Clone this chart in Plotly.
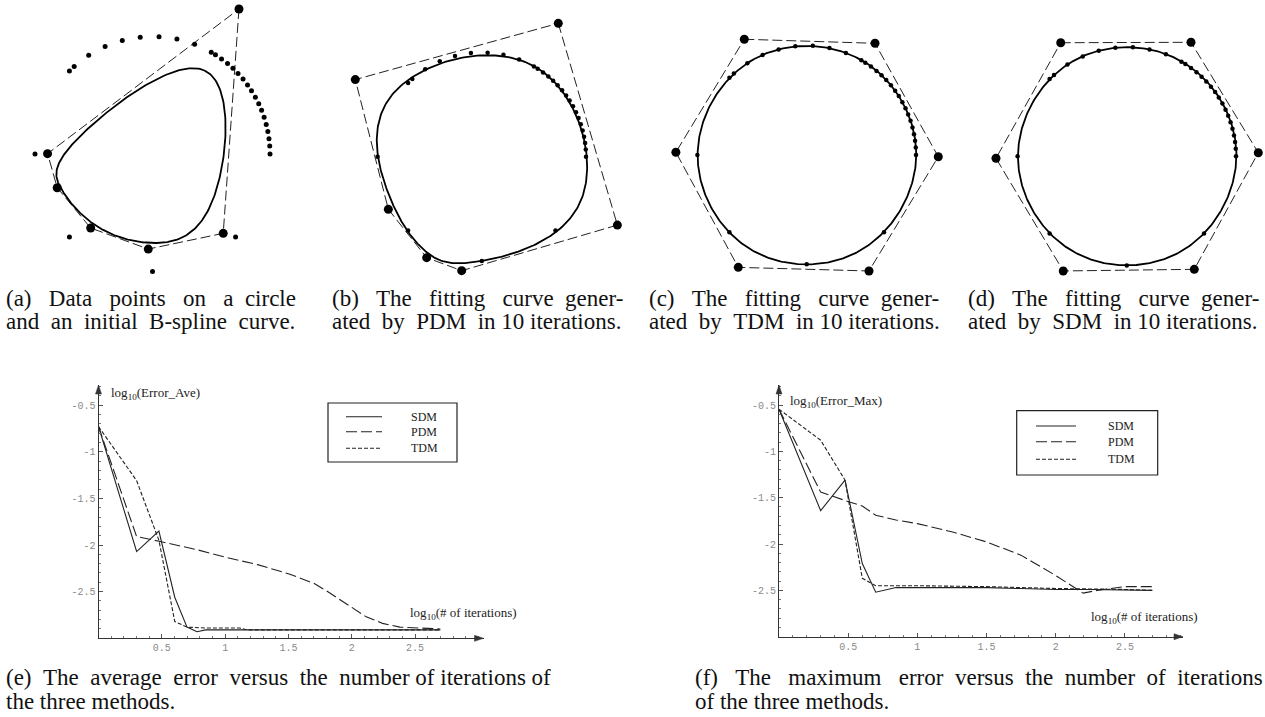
import numpy as np
import plotly.graph_objects as go

W, H = 1265, 717

# ---------------- data ----------------
# angles (degrees) of the data points sampled on the unit circle
DATA_ANGLES_DEG = [0.0, 3.9, 7.5, 11.0, 14.6, 18.2, 21.8, 25.3, 28.9, 32.6, 36.0, 39.6,
                   43.3, 46.8, 50.3, 54.0, 57.6, 60.0, 69.0, 78.0, 86.8, 96.0, 104.9,
                   113.8, 122.9, 131.8, 135.0, 180.0, 225.0, 270.0, 315.0]

# control points of the closed cubic B-spline (circle radius = 1 units)
CTRL_A = [(0.736, 1.234), (0.602, -0.675), (-0.036, -0.809), (-0.526, -0.630),
          (-0.811, -0.287), (-0.893, 0.003)]
CTRL_B = [(0.734, 1.280), (1.301, -0.656), (-0.193, -1.094), (-0.529, -0.969),
          (-0.897, -0.505), (-1.214, 0.740)]
CTRL_C = [(-0.571, 1.059), (0.625, 1.022), (1.204, -0.016), (0.570, -1.061),
          (-0.626, -1.028), (-1.197, 0.025)]
CTRL_D = [(-0.605, 1.040), (0.588, 1.044), (1.204, 0.033), (0.618, -1.035),
          (-0.582, -1.050), (-1.198, -0.018)]

CAPTIONS_TOP = [
    ["(a) Data points on a circle", "and an initial B-spline curve."],
    ["(b) The fitting curve gener-", "ated by PDM in 10 iterations."],
    ["(c) The fitting curve gener-", "ated by TDM in 10 iterations."],
    ["(d) The fitting curve gener-", "ated by SDM in 10 iterations."],
]
CAPTIONS_BOTTOM = [
    ["(e) The average error versus the number of iterations of", "the three methods."],
    ["(f) The maximum error versus the number of iterations", "of the three methods."],
]

METHODS = ["SDM", "PDM", "TDM"]

# average error, log10 scale
E_SDM_ITERS = [1, 2, 3, 4, 5, 6, 7, 10, 13, 20, 50, 100, 200, 500]
E_SDM_VALS = [-0.73, -2.07, -1.85, -2.56, -2.88, -2.93, -2.91, -2.91, -2.91, -2.91, -2.91, -2.91, -2.91, -2.91]
E_PDM_ITERS = [1, 2, 3, 6, 10, 18, 32, 50, 63, 100, 130, 175, 240, 500]
E_PDM_VALS = [-0.73, -1.91, -1.96, -2.05, -2.13, -2.21, -2.31, -2.41, -2.49, -2.67, -2.77, -2.84, -2.88, -2.90]
E_TDM_ITERS = [1, 2, 3, 4, 5, 7, 10, 13, 15, 20, 50, 100, 200, 500]
E_TDM_VALS = [-0.73, -1.31, -1.95, -2.82, -2.88, -2.89, -2.89, -2.89, -2.91, -2.91, -2.91, -2.91, -2.91, -2.91]

# maximum error, log10 scale
F_SDM_ITERS = [1, 2, 3, 4, 5, 7, 10, 20, 32, 56, 100, 178, 316, 500]
F_SDM_VALS = [-0.545, -1.64, -1.31, -2.21, -2.52, -2.47, -2.47, -2.47, -2.47, -2.48, -2.49, -2.49, -2.50, -2.50]
F_PDM_ITERS = [1, 2, 3, 4, 5, 7, 10, 18, 32, 56, 100, 158, 200, 251, 316, 500]
F_PDM_VALS = [-0.545, -1.44, -1.53, -1.59, -1.69, -1.74, -1.78, -1.87, -1.98, -2.12, -2.34, -2.53, -2.50, -2.48, -2.46, -2.46]
F_TDM_ITERS = [1, 2, 3, 4, 5, 7, 10, 32, 100, 316, 500]
F_TDM_VALS = [-0.545, -0.88, -1.31, -2.37, -2.45, -2.45, -2.45, -2.46, -2.48, -2.49, -2.50]

Y_TICKS = [-0.5, -1, -1.5, -2, -2.5]
Y_TICK_TEXT = ["-0.5", "-1", "-1.5", "-2", "-2.5"]
X_TICKS = [0.5, 1, 1.5, 2, 2.5]
X_TICK_TEXT = ["0.5", "1", "1.5", "2", "2.5"]

# ---------------- helpers ----------------
def fx(px):
    return px / W


def fy(py):
    return 1 - py / H


def bspline_closed(ctrl, samples=60):
    P = np.array(ctrl, dtype=float)
    n = len(P)
    t = np.linspace(0, 1, samples, endpoint=False)
    b0 = (1 - t) ** 3 / 6
    b1 = (3 * t ** 3 - 6 * t ** 2 + 4) / 6
    b2 = (-3 * t ** 3 + 3 * t ** 2 + 3 * t + 1) / 6
    b3 = t ** 3 / 6
    segs = []
    for i in range(n):
        p0, p1, p2, p3 = P[(i - 1) % n], P[i], P[(i + 1) % n], P[(i + 2) % n]
        segs.append(np.outer(b0, p0) + np.outer(b1, p1) + np.outer(b2, p2) + np.outer(b3, p3))
    pts = np.vstack(segs + [segs[0][:1]])
    return pts[:, 0], pts[:, 1]


# Times-compatible advance widths (1/1000 em) used to justify caption lines
TIMES_W = {" ": 250, "(": 333, ")": 333, "-": 333, ".": 250, "0": 500, "1": 500,
           "a": 444, "b": 500, "c": 444, "d": 500, "e": 444, "f": 333, "g": 500, "h": 500,
           "i": 278, "l": 278, "m": 778, "n": 500, "o": 500, "p": 500, "r": 333, "s": 389,
           "t": 278, "u": 500, "v": 500, "x": 500, "y": 500,
           "B": 667, "D": 722, "M": 889, "P": 556, "S": 556, "T": 611}


def justify(text, target_px, size):
    natural = sum(TIMES_W.get(c, 500) for c in text) / 1000 * size
    extra = target_px - natural
    nb = 0.25 * size
    k = int(round(extra / nb)) if extra > 0 else 0
    words = text.split(" ")
    gaps = len(words) - 1
    if k == 0 or gaps == 0:
        return text
    base, rem = divmod(k, gaps)
    out = words[0]
    for i, w in enumerate(words[1:]):
        out += " " + "\u00a0" * (base + (1 if i < rem else 0)) + w
    return out


fig = go.Figure()
layout = dict(
    width=W, height=H, margin=dict(l=0, r=0, t=0, b=0),
    paper_bgcolor="white", plot_bgcolor="rgba(0,0,0,0)",
    showlegend=False, annotations=[], shapes=[],
)

# ---------------- panels (a)-(d) ----------------
panel_geom = [
    ((0, 322, 0, 285), (152.5, 154.0), 117.5),
    ((325, 645, 0, 285), (481.8, 156.7), 104.2),
    ((645, 960, 0, 285), (806.7, 155.0), 109.3),
    ((960, 1265, 0, 285), (1126.8, 156.3), 109.2),
]
ctrls = [CTRL_A, CTRL_B, CTRL_C, CTRL_D]
ang = np.radians(DATA_ANGLES_DEG)
data_x = np.cos(ang)
data_y = np.sin(ang)

for k, (ctrl, (box, (cx, cy), r)) in enumerate(zip(ctrls, panel_geom), start=1):
    xa = "x" if k == 1 else f"x{k}"
    ya = "y" if k == 1 else f"y{k}"
    X0, X1, Y0, Y1 = box
    layout["xaxis" if k == 1 else f"xaxis{k}"] = dict(
        domain=[fx(X0), fx(X1)], range=[(X0 - cx) / r, (X1 - cx) / r],
        visible=False, fixedrange=True, anchor=ya)
    layout["yaxis" if k == 1 else f"yaxis{k}"] = dict(
        domain=[fy(Y1), fy(Y0)], range=[(cy - Y1) / r, (cy - Y0) / r],
        visible=False, fixedrange=True, anchor=xa)
    cxs = [p[0] for p in ctrl] + [ctrl[0][0]]
    cys = [p[1] for p in ctrl] + [ctrl[0][1]]
    fig.add_trace(go.Scatter(x=cxs, y=cys, mode="lines", xaxis=xa, yaxis=ya,
                             line=dict(color="#222", width=1, dash="10px,4px"), hoverinfo="skip"))
    bx, by = bspline_closed(ctrl)
    fig.add_trace(go.Scatter(x=bx, y=by, mode="lines", xaxis=xa, yaxis=ya,
                             line=dict(color="black", width=1.8), hoverinfo="skip"))
    fig.add_trace(go.Scatter(x=data_x, y=data_y, mode="markers", xaxis=xa, yaxis=ya,
                             marker=dict(color="black", size=5 if k == 1 else 4.5), hoverinfo="skip"))
    fig.add_trace(go.Scatter(x=cxs[:-1], y=cys[:-1], mode="markers", xaxis=xa, yaxis=ya,
                             marker=dict(color="black", size=9), hoverinfo="skip"))

# ---------------- panels (e), (f) ----------------
dash_styles = {"SDM": "solid", "PDM": "11px,4px", "TDM": "4px,2px"}
series_e = {"SDM": (E_SDM_ITERS, E_SDM_VALS), "PDM": (E_PDM_ITERS, E_PDM_VALS), "TDM": (E_TDM_ITERS, E_TDM_VALS)}
series_f = {"SDM": (F_SDM_ITERS, F_SDM_VALS), "PDM": (F_PDM_ITERS, F_PDM_VALS), "TDM": (F_TDM_ITERS, F_TDM_VALS)}

err_geom = [
    (5, (98.5, 483.5, 385.0, 638.3), 3.04, -0.285, series_e, "Error_Ave",
     (109, 393), (408, 613),
     dict(box=(328, 403, 457, 462), lx=(346, 382), tx=409, rows=[416.7, 431.7, 448.3])),
    (6, (779.0, 1183.0, 385.0, 636.7), 2.92, -0.284, series_f, "Error_Max",
     (788, 401), (1089, 617),
     dict(box=(1016.7, 410.7, 1157.7, 475), lx=(1036, 1076), tx=1106, rows=[426, 441.7, 459.3])),
]

axis_col = "#333"
tick_font = dict(family="Liberation Mono, DejaVu Sans Mono, monospace", size=10, color="#8a8a8a")
label_font = dict(family="Liberation Serif, Times New Roman, serif", size=13, color="#222")

for k, (X0, X1, YT, YB), xmax, ytop, series, ylab, ylab_pos, xlab_pos, leg in err_geom:
    xa, ya = f"x{k}", f"y{k}"
    layout[f"xaxis{k}"] = dict(
        domain=[fx(X0), fx(X1)], range=[0, xmax], anchor=ya, fixedrange=True,
        showline=True, linecolor=axis_col, linewidth=1, showgrid=False, zeroline=False,
        tickmode="array", tickvals=X_TICKS, ticktext=X_TICK_TEXT,
        ticks="inside", ticklen=4, tickcolor="#555", tickwidth=1,
        minor=dict(dtick=0.1, tick0=0, ticks="inside", ticklen=2, tickcolor="#777", showgrid=False),
        tickfont=tick_font)
    layout[f"yaxis{k}"] = dict(
        domain=[fy(YB), fy(YT)], range=[-3, ytop], anchor=xa, fixedrange=True,
        showline=True, linecolor=axis_col, linewidth=1, showgrid=False, zeroline=False,
        tickmode="array", tickvals=Y_TICKS, ticktext=Y_TICK_TEXT,
        ticks="inside", ticklen=4, tickcolor="#555", tickwidth=1,
        minor=dict(dtick=0.1, tick0=0, ticks="inside", ticklen=2, tickcolor="#777", showgrid=False),
        tickfont=tick_font)
    for name in METHODS:
        it, vals = series[name]
        fig.add_trace(go.Scatter(x=np.log10(it), y=vals, mode="lines", name=name, xaxis=xa, yaxis=ya,
                                 line=dict(color="#222", width=1.1, dash=dash_styles[name]),
                                 hoverinfo="skip"))
    # axis arrowheads (paths in paper coordinates)
    up = f"M {fx(X0 - 3)},{fy(YT + 9)} L {fx(X0 + 3)},{fy(YT + 9)} L {fx(X0)},{fy(YT)} Z"
    right = f"M {fx(X1 - 9)},{fy(YB - 3)} L {fx(X1 - 9)},{fy(YB + 3)} L {fx(X1)},{fy(YB)} Z"
    for p in (up, right):
        layout["shapes"].append(dict(type="path", xref="paper", yref="paper", path=p,
                                     fillcolor=axis_col, line=dict(color=axis_col, width=0.5)))
    # axis titles
    layout["annotations"].append(dict(x=fx(ylab_pos[0]), y=fy(ylab_pos[1]), xref="paper", yref="paper",
                                      xanchor="left", yanchor="middle", showarrow=False,
                                      text=f"log<sub>10</sub>({ylab})", font=label_font))
    layout["annotations"].append(dict(x=fx(xlab_pos[0]), y=fy(xlab_pos[1]), xref="paper", yref="paper",
                                      xanchor="left", yanchor="middle", showarrow=False,
                                      text="log<sub>10</sub>(# of iterations)", font=label_font))
    # legend box
    bx0, by0, bx1, by1 = leg["box"]
    layout["shapes"].append(dict(type="rect", xref="paper", yref="paper",
                                 x0=fx(bx0), x1=fx(bx1), y0=fy(by1), y1=fy(by0),
                                 line=dict(color="#222", width=1.2), fillcolor="rgba(0,0,0,0)"))
    for name, ry in zip(METHODS, leg["rows"]):
        layout["shapes"].append(dict(type="line", xref="paper", yref="paper",
                                     x0=fx(leg["lx"][0]), x1=fx(leg["lx"][1]), y0=fy(ry), y1=fy(ry),
                                     line=dict(color="#222", width=1.1, dash=dash_styles[name])))
        layout["annotations"].append(dict(x=fx(leg["tx"]), y=fy(ry), xref="paper", yref="paper",
                                          xanchor="left", yanchor="middle", showarrow=False,
                                          text=name, font=dict(family="Liberation Serif, serif",
                                                               size=12, color="#222")))

# ---------------- captions ----------------
CAP_SIZE = 23
cap_font = dict(family="Liberation Serif, Times New Roman, serif", size=CAP_SIZE, color="#111")
top_x = [4, 330, 647, 966]
for x0, lines in zip(top_x, CAPTIONS_TOP):
    for line, yy in zip(lines, [298, 322]):
        layout["annotations"].append(dict(x=fx(x0), y=fy(yy), xref="paper", yref="paper",
                                          xanchor="left", yanchor="middle", showarrow=False,
                                          text=justify(line, 292, CAP_SIZE), font=cap_font))
bot_x = [4, 693]
bot_w = [542, 569]
for x0, wdt, lines in zip(bot_x, bot_w, CAPTIONS_BOTTOM):
    for i, (line, yy) in enumerate(zip(lines, [677, 701])):
        txt = justify(line, wdt, CAP_SIZE) if i == 0 else line
        layout["annotations"].append(dict(x=fx(x0), y=fy(yy), xref="paper", yref="paper",
                                          xanchor="left", yanchor="middle", showarrow=False,
                                          text=txt, font=cap_font))

fig.update_layout(**layout)
fig.write_html("out.html", config={"displayModeBar": False},
               post_script="document.body.style.margin='0px';")
